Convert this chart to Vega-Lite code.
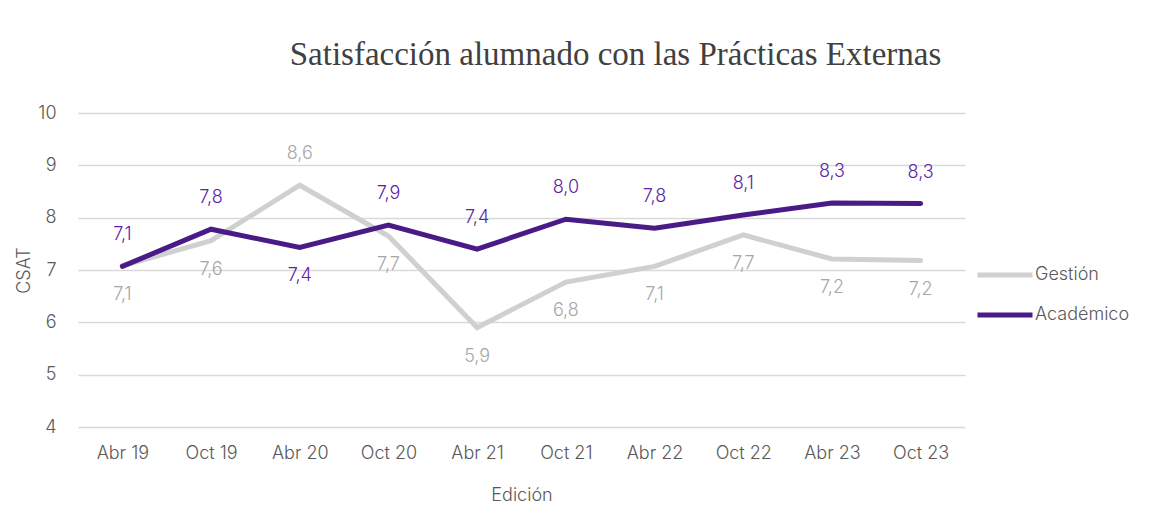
{
  "$schema": "https://vega.github.io/schema/vega-lite/v6.json",
  "autosize": {"type": "none"},
  "width": 887,
  "height": 314,
  "padding": {"left": 78, "top": 113, "right": 185, "bottom": 89},
  "background": "white",
  "config": {
    "view": {"stroke": null},
    "locale": {"number": {"decimal": ",", "thousands": ".", "grouping": [3], "currency": ["", " €"]}},
    "font": "Inter"
  },
  "title": {
    "text": "Satisfacción alumnado con las Prácticas Externas",
    "font": "Liberation Serif",
    "fontSize": 33,
    "fontWeight": "normal",
    "color": "#404040",
    "anchor": "middle",
    "dx": 94,
    "offset": 32
  },
  "data": {
    "values": [
      {"edicion": "Abr 19", "serie": "Gestión", "csat": 7.08},
      {"edicion": "Oct 19", "serie": "Gestión", "csat": 7.56},
      {"edicion": "Abr 20", "serie": "Gestión", "csat": 8.62},
      {"edicion": "Oct 20", "serie": "Gestión", "csat": 7.65},
      {"edicion": "Abr 21", "serie": "Gestión", "csat": 5.9},
      {"edicion": "Oct 21", "serie": "Gestión", "csat": 6.77},
      {"edicion": "Abr 22", "serie": "Gestión", "csat": 7.07},
      {"edicion": "Oct 22", "serie": "Gestión", "csat": 7.67},
      {"edicion": "Abr 23", "serie": "Gestión", "csat": 7.21},
      {"edicion": "Oct 23", "serie": "Gestión", "csat": 7.18},
      {"edicion": "Abr 19", "serie": "Académico", "csat": 7.07},
      {"edicion": "Oct 19", "serie": "Académico", "csat": 7.78},
      {"edicion": "Abr 20", "serie": "Académico", "csat": 7.43},
      {"edicion": "Oct 20", "serie": "Académico", "csat": 7.86},
      {"edicion": "Abr 21", "serie": "Académico", "csat": 7.4},
      {"edicion": "Oct 21", "serie": "Académico", "csat": 7.97},
      {"edicion": "Abr 22", "serie": "Académico", "csat": 7.8},
      {"edicion": "Oct 22", "serie": "Académico", "csat": 8.05},
      {"edicion": "Abr 23", "serie": "Académico", "csat": 8.28},
      {"edicion": "Oct 23", "serie": "Académico", "csat": 8.27}
    ]
  },
  "encoding": {
    "x": {
      "field": "edicion",
      "type": "nominal",
      "sort": null,
      "scale": {"type": "point", "padding": 0.5},
      "axis": {
        "title": "Edición",
        "titleFont": "Inter",
        "titleFontSize": 18,
        "titleFontWeight": 300,
        "titleColor": "#595959",
        "titlePadding": 24,
        "labelAngle": 0,
        "labelFont": "Inter",
        "labelFontSize": 18,
        "labelFontWeight": 300,
        "labelColor": "#595959",
        "labelPadding": 17,
        "domain": false,
        "ticks": false,
        "grid": false
      }
    },
    "y": {
      "field": "csat",
      "type": "quantitative",
      "scale": {"domain": [4, 10], "nice": false, "zero": false},
      "axis": {
        "title": "CSAT",
        "titleFont": "Inter",
        "titleFontSize": 18,
        "titleFontWeight": 300,
        "titleColor": "#595959",
        "titlePadding": 4,
        "values": [4, 5, 6, 7, 8, 9, 10],
        "format": "d",
        "labelFont": "Inter",
        "labelFontSize": 18,
        "labelFontWeight": 300,
        "labelColor": "#595959",
        "labelPadding": 22,
        "domain": false,
        "ticks": false,
        "grid": true,
        "gridColor": "#D9D9D9",
        "gridWidth": 1.5
      }
    }
  },
  "layer": [
    {
      "mark": {"type": "line", "strokeWidth": 5, "strokeCap": "round"},
      "encoding": {
        "color": {
          "field": "serie",
          "type": "nominal",
          "scale": {"domain": ["Gestión", "Académico"], "range": ["#D0D0D0", "#4A1A86"]},
          "legend": {
            "title": null,
            "orient": "none",
            "legendX": 897,
            "legendY": 132,
            "symbolType": "stroke",
            "symbolSize": 3025,
            "symbolStrokeWidth": 5,
            "rowPadding": -12,
            "labelFont": "Inter",
            "labelFontSize": 18,
            "labelFontWeight": 300,
            "labelColor": "#595959",
            "labelOffset": 0
          }
        }
      }
    },
    {
      "transform": [{"filter": "(datum.serie == 'Académico' && datum.edicion != 'Abr 20') || (datum.serie == 'Gestión' && datum.edicion == 'Abr 20')"}],
      "mark": {"type": "text", "dy": -31, "fontSize": 18, "fontWeight": 300, "font": "Inter", "baseline": "middle"},
      "encoding": {
        "text": {"field": "csat", "type": "quantitative", "format": ".1f"},
        "color": {
          "field": "serie",
          "type": "nominal",
          "scale": {"domain": ["Gestión", "Académico"], "range": ["#A6A6A6", "#5B22A8"]},
          "legend": null
        }
      }
    },
    {
      "transform": [{"filter": "!((datum.serie == 'Académico' && datum.edicion != 'Abr 20') || (datum.serie == 'Gestión' && datum.edicion == 'Abr 20'))"}],
      "mark": {"type": "text", "dy": 29, "fontSize": 18, "fontWeight": 300, "font": "Inter", "baseline": "middle"},
      "encoding": {
        "text": {"field": "csat", "type": "quantitative", "format": ".1f"},
        "color": {
          "field": "serie",
          "type": "nominal",
          "scale": {"domain": ["Gestión", "Académico"], "range": ["#A6A6A6", "#5B22A8"]},
          "legend": null
        }
      }
    }
  ],
  "resolve": {"scale": {"color": "independent"}}
}
